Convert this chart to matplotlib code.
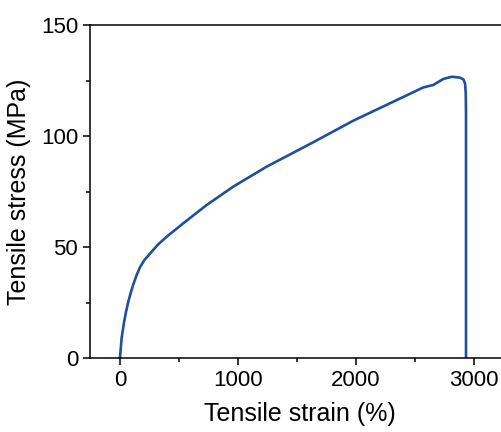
import matplotlib
matplotlib.use('Agg')
from matplotlib import pyplot as plt
from matplotlib.ticker import MultipleLocator

# strain (%) and stress (MPa)
strain = [0, 14, 34, 52, 71, 92, 113, 140, 169, 205, 254, 320, 395, 537, 734, 960,
          1243, 1610, 1977, 2373, 2571, 2655, 2740, 2811, 2881, 2910, 2924, 2930,
          2932, 2932]
stress = [0, 9, 16, 21, 25.5, 29.5, 33.2, 37.2, 40.8, 44, 47, 51, 54.6, 60.7, 68.9, 77.2,
          86.2, 96.4, 106.9, 116.9, 121.9, 123.0, 125.7, 126.7, 126.3, 125.5, 123.7,
          119, 110, 0]

plt.rcParams['font.family'] = ['Liberation Sans', 'DejaVu Sans']

fig = plt.figure(figsize=(5.02, 4.32), dpi=100)
ax = fig.add_axes([0.1793, 0.1713, 0.8355, 0.7708])
ax.plot(strain, stress, color='#1f4f9f', linewidth=1.9, solid_joinstyle='round')

ax.set_xlim(-254, 3300)
ax.set_ylim(0, 150)
ax.xaxis.set_major_locator(MultipleLocator(1000))
ax.xaxis.set_minor_locator(MultipleLocator(500))
ax.yaxis.set_major_locator(MultipleLocator(50))
ax.yaxis.set_minor_locator(MultipleLocator(25))
ax.tick_params(which='major', direction='out', length=5, width=1.1, labelsize=16)
ax.tick_params(which='minor', direction='out', length=3, width=1.1)
for s in ax.spines.values():
    s.set_linewidth(1.1)

ax.set_xlabel('Tensile strain (%)', fontsize=18, labelpad=8)
ax.set_ylabel('Tensile stress (MPa)', fontsize=18, labelpad=7)

fig.savefig('out.png', dpi=100)
